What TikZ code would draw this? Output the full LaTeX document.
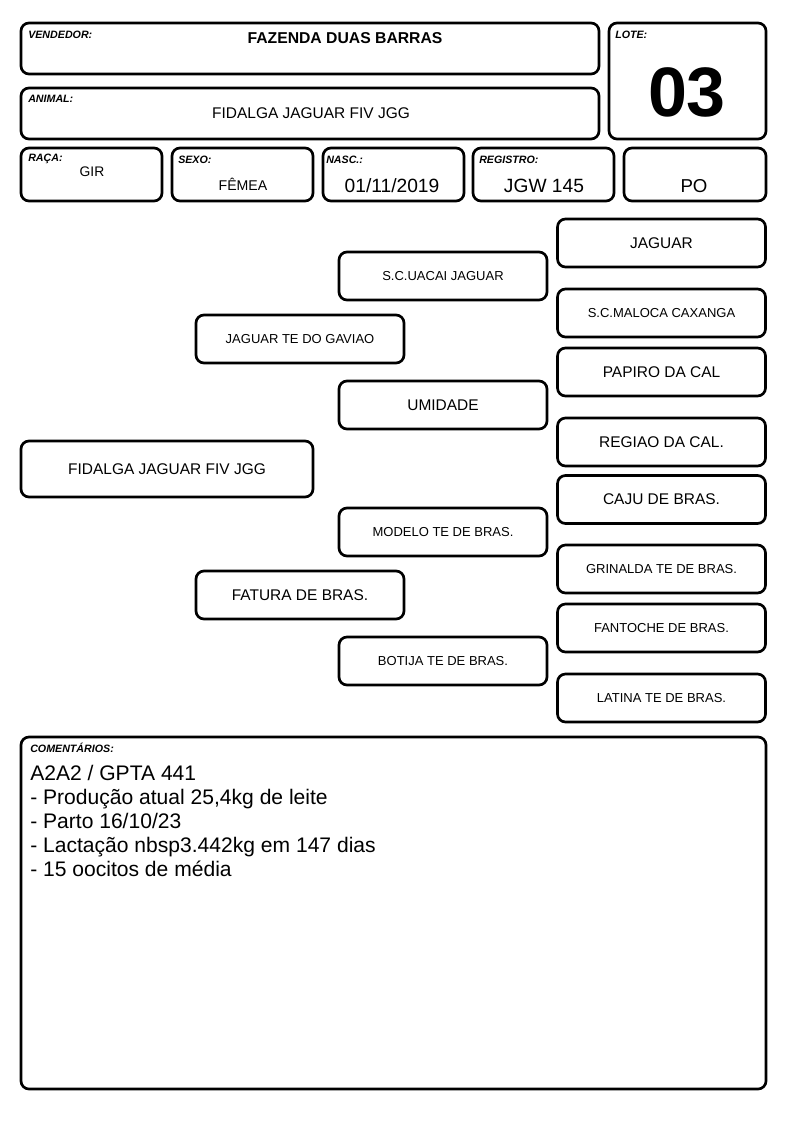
\documentclass[tikz,border=0pt]{standalone}
\usepackage{fontspec}
\setmainfont{Liberation Sans}

\tikzset{
  card/.style={draw, line width=2pt, rounded corners=6pt, inner sep=0pt},
  tag/.style={anchor=west, inner sep=0pt, font=\fontsize{8}{9}\selectfont\bfseries\itshape},
  val/.style={inner sep=0pt, font=\fontsize{#1}{#1}\selectfont},
  bval/.style={inner sep=0pt, font=\fontsize{#1}{#1}\selectfont\bfseries},
}

\begin{document}
\begin{tikzpicture}[x=0.75pt,y=-0.75pt]
\useasboundingbox (0,0) rectangle (794,1123);

% cabecalho
\node[card, minimum width=433.5pt, minimum height=38.25pt] (vendedor) at (310,48.5) {};
\node[tag] (vendedortag) at (28,35) {VENDEDOR:};
\node[bval=11.8] (vendedornome) at (345,38) {FAZENDA DUAS BARRAS};

\node[card, minimum width=117.75pt, minimum height=87pt] (lote) at (687.5,81) {};
\node[tag] (lotetag) at (615,35) {LOTE:};
\node[bval=52.5] (lotenum) at (687,92) {03};

\node[card, minimum width=433.5pt, minimum height=38.25pt] (animal) at (310,113.5) {};
\node[tag] (animaltag) at (28,99) {ANIMAL:};
\node[val=11.6] (animalnome) at (311,113) {FIDALGA JAGUAR FIV JGG};

\node[card, minimum width=105.75pt, minimum height=39.75pt] (raca) at (91.5,174.5) {};
\node[tag] (racatag) at (28,159) {RAÇA:};
\node[val=10.4] (racaval) at (92,172) {GIR};

\node[card, minimum width=105.75pt, minimum height=39.75pt] (sexo) at (242.5,174.5) {};
\node[tag] (sexotag) at (178,160) {SEXO:};
\node[val=10.6] (sexoval) at (243,184) {FÊMEA};

\node[card, minimum width=105.75pt, minimum height=39.75pt] (nasc) at (393.5,174.5) {};
\node[tag] (nasctag) at (326,160) {NASC.:};
\node[val=14.4] (nascval) at (392,186) {01/11/2019};

\node[card, minimum width=105.75pt, minimum height=39.75pt] (registro) at (543.5,174.5) {};
\node[tag] (registrotag) at (479,160) {REGISTRO:};
\node[val=14.4] (registroval) at (544,186) {JGW 145};

\node[card, minimum width=106.5pt, minimum height=39.75pt] (po) at (695,174.5) {};
\node[val=14] (poval) at (694,186) {PO};

% genealogia
\node[card, val=11.6, minimum width=219pt, minimum height=42pt] (fidalga) at (167,469) {FIDALGA JAGUAR FIV JGG};

\foreach \nm/\cx/\cy/\fs/\txt in {
  gaviao/300/339/9.75/JAGUAR TE DO GAVIAO,
  fatura/300/595/11.6/FATURA DE BRAS.,
  uacai/443/276/9.75/S.C.UACAI JAGUAR,
  umidade/443/405/11.6/UMIDADE,
  modelo/443/532/9.75/MODELO TE DE BRAS.,
  botija/443/661/9.75/BOTIJA TE DE BRAS.,
  jaguar/661.5/243/11.6/JAGUAR,
  maloca/661.5/313/9.75/S.C.MALOCA CAXANGA,
  papiro/661.5/372/11.6/PAPIRO DA CAL,
  regiao/661.5/442/11.6/REGIAO DA CAL.,
  caju/661.5/499.5/11.6/CAJU DE BRAS.,
  grinalda/661.5/569/9.75/GRINALDA TE DE BRAS.,
  fantoche/661.5/628/9.75/FANTOCHE DE BRAS.,
  latina/661.5/698/9.75/LATINA TE DE BRAS.}{
\node[card, val=\fs, minimum width=156pt, minimum height=36pt] (\nm) at (\cx,\cy) {\txt};
}

% comentarios
\node[card, minimum width=558.75pt, minimum height=264pt] (comentarios) at (393.5,913) {};
\node[tag] (comentariostag) at (30,748) {COMENTÁRIOS:};
\foreach \txt [count=\i from 0] in {A2A2 / GPTA 441, - Produção atual 25{,}4kg de leite, - Parto 16/10/23, - Lactação nbsp3.442kg em 147 dias, - 15 oocitos de média}{
\node[val=15.8, anchor=base west] (linha\i) at (30,780+24*\i) {\txt};
}

\end{tikzpicture}
\end{document}
